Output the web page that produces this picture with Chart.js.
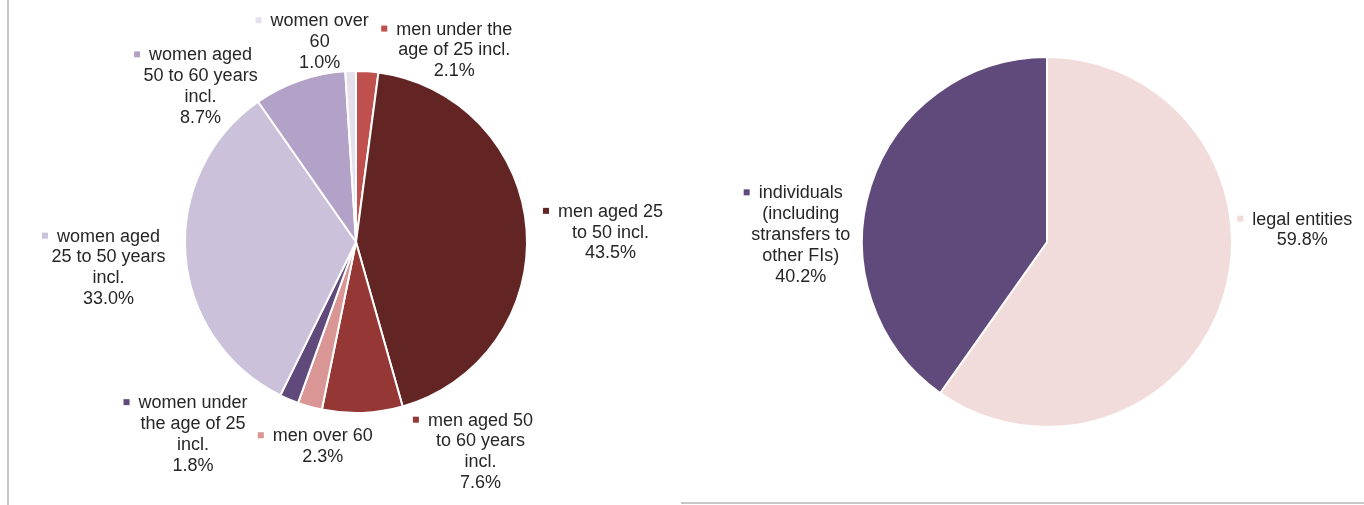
<!DOCTYPE html>
<html>
<head>
<meta charset="utf-8">
<script src="https://cdn.jsdelivr.net/npm/chart.js@4/dist/chart.umd.min.js"></script>
<style>
  html, body { margin: 0; padding: 0; background: #fff; overflow: hidden; }
  body { width: 1364px; height: 505px; position: relative; }
  .box { position: absolute; }
  #leftBox { left: 0; top: 0; width: 712px; height: 505px; }
  #rightBox { left: 730px; top: 0; width: 634px; height: 505px; }
  #vline { position: absolute; left: 7px; top: 0; width: 2px; height: 505px; background: #c8c8c8; }
  #hline { position: absolute; left: 681px; top: 502px; width: 683px; height: 2px; background: #c8c8c8; }
</style>
</head>
<body>
<div id="vline"></div>
<div id="hline"></div>
<div class="box" id="leftBox"><canvas id="ageChart"></canvas></div>
<div class="box" id="rightBox"><canvas id="typeChart"></canvas></div>
<script>
// left pie - by gender and age
const ageLabels = [
  ["men under the", "age of 25 incl."],
  ["men aged 25", "to 50 incl."],
  ["men aged 50", "to 60 years", "incl."],
  ["men over 60"],
  ["women under", "the age of 25", "incl."],
  ["women aged", "25 to 50 years", "incl."],
  ["women aged", "50 to 60 years", "incl."],
  ["women over", "60"]
];
const ageValues = [2.1, 43.5, 7.6, 2.3, 1.8, 33.0, 8.7, 1.0];
const ageColors = ['#C0504D', '#632523', '#953735', '#D99694', '#604A7B', '#CCC1DA', '#B3A2C7', '#E6E0EC'];
// label nudge from the slice's outer edge (layout only)
const ageNudge = [[87, -21], [84, 3], [118, 39], [13, 40], [-96, 35], [-77, 13], [-99, 6], [-31, -29]];

// right pie - by client type
const typeLabels = [
  ["legal entities"],
  ["individuals", "(including", "stransfers to", "other FIs)"]
];
const typeValues = [59.8, 40.2];
const typeColors = ['#F2DCDB', '#604A7B'];
const typeNudge = [[79, -68], [-70, 49]];

const FONT = '18px "Liberation Sans", Arial, sans-serif';
const LINE_H = 20.8;

function outsideLabels(lines, nudges) {
  return {
    id: 'outsideLabels',
    afterDraw(chart) {
      const ctx = chart.ctx;
      const meta = chart.getDatasetMeta(0);
      const ds = chart.data.datasets[0];
      ctx.save();
      ctx.font = FONT;
      ctx.textAlign = 'center';
      ctx.textBaseline = 'middle';
      meta.data.forEach((arc, i) => {
        const p = arc.getProps(['x', 'y', 'startAngle', 'endAngle', 'outerRadius'], true);
        const mid = (p.startAngle + p.endAngle) / 2;
        const ax = p.x + Math.cos(mid) * p.outerRadius;
        const ay = p.y + Math.sin(mid) * p.outerRadius;
        const cx = ax + nudges[i][0];
        const cy = ay + nudges[i][1];
        const txt = lines[i].concat([ds.data[i].toFixed(1) + '%']);
        const y0 = cy - (txt.length - 1) / 2 * LINE_H;
        ctx.fillStyle = '#262626';
        txt.forEach((t, k) => ctx.fillText(t, cx, y0 + k * LINE_H));
        // legend key in front of the first line
        const w = ctx.measureText(txt[0]).width;
        ctx.fillStyle = ds.backgroundColor[i];
        ctx.fillRect(cx - w / 2 - 15, y0 - 4, 6, 6);
      });
      ctx.restore();
    }
  };
}

function makePie(id, lines, values, colors, nudges, pad) {
  return new Chart(document.getElementById(id), {
    type: 'pie',
    data: {
      labels: lines.map(l => l.join(' ')),
      datasets: [{
        data: values,
        backgroundColor: colors,
        borderColor: '#ffffff',
        borderWidth: 2
      }]
    },
    options: {
      responsive: true,
      maintainAspectRatio: false,
      animation: false,
      layout: { padding: pad },
      plugins: {
        legend: { display: false },
        tooltip: { enabled: false }
      }
    },
    plugins: [outsideLabels(lines, nudges)]
  });
}

makePie('ageChart', ageLabels, ageValues, ageColors, ageNudge, { top: 70, bottom: 91, left: 0, right: 0 });
makePie('typeChart', typeLabels, typeValues, typeColors, typeNudge, { top: 56, bottom: 77, left: 0, right: 0 });
</script>
</body>
</html>
